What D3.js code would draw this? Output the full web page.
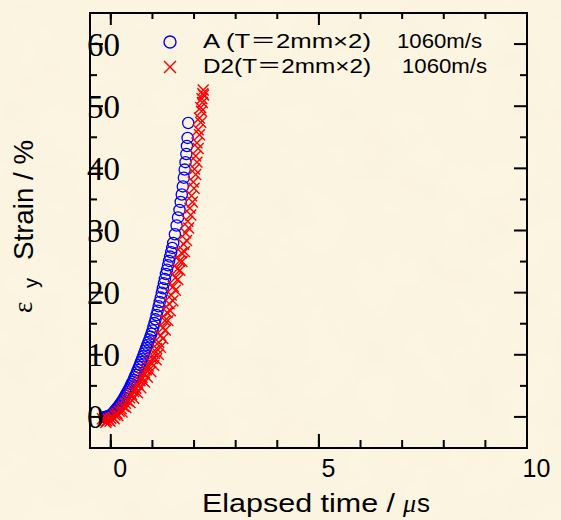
<!DOCTYPE html>
<html>
<head>
<meta charset="utf-8">
<script src="https://cdn.jsdelivr.net/npm/d3@7"></script>
<style>
  html, body { margin: 0; padding: 0; background: #f9efd8; }
  svg { display: block; }
</style>
</head>
<body>
<div id="chart"></div>
<script>
// series A : circles
const timeA = [-0.150, -0.125, -0.100, -0.075, -0.050, -0.025, 0.000, 0.025, 0.050, 0.075, 0.100,
  0.125, 0.150, 0.175, 0.200, 0.225, 0.250, 0.275, 0.300, 0.325, 0.350, 0.375, 0.400, 0.425,
  0.450, 0.475, 0.500, 0.525, 0.550, 0.575, 0.600, 0.625, 0.650, 0.675, 0.700, 0.725, 0.750,
  0.775, 0.800, 0.825, 0.850, 0.875, 0.900, 0.925, 0.950, 0.975, 1.000, 1.025, 1.050, 1.075,
  1.100, 1.125, 1.150, 1.175, 1.200, 1.225, 1.250, 1.275, 1.300, 1.325, 1.350, 1.375, 1.400,
  1.425, 1.450, 1.475, 1.500, 1.540, 1.580, 1.615, 1.650, 1.680, 1.705, 1.730, 1.755, 1.775,
  1.795, 1.815, 1.830, 1.845, 1.860]
const strainA = [0.0, 0.0, 0.0, 0.1, 0.1, 0.2, 0.3, 0.45, 0.6, 0.8, 1.0,
  1.2, 1.4, 1.6, 1.8, 2.05, 2.3, 2.55, 2.8, 3.1, 3.4, 3.7, 4.0, 4.3,
  4.6, 4.95, 5.3, 5.65, 6.0, 6.4, 6.75, 7.15, 7.55, 8.0, 8.4, 8.85, 9.3,
  9.75, 10.2, 10.65, 11.1, 11.55, 12.0, 12.45, 12.9, 13.4, 13.9, 14.5, 15.1, 15.7,
  16.4, 17.1, 17.8, 18.5, 19.2, 20.0, 20.7, 21.5, 22.2, 23.0, 23.7, 24.4, 25.1,
  25.8, 26.5, 27.2, 28.0, 29.4, 30.8, 32.1, 33.3, 34.6, 35.8, 37.1, 38.5, 39.8,
  41.0, 42.3, 43.6, 44.9, 47.3]

// series D2 : crosses (two interleaved runs of the gauge)
const timeD2 = [-0.20, -0.15, -0.10, -0.05, 0.00, 0.05, 0.10, 0.15, 0.20, 0.25, 0.30, 0.35, 0.40, 0.45,
  0.50, 0.55, 0.60, 0.65, 0.70, 0.75, 0.80, 0.85, 0.90, 0.95, 1.00, 1.05, 1.10, 1.15, 1.20, 1.25,
  1.30, 1.35, 1.40, 1.45, 1.50, 1.55, 1.60, 1.65, 1.70, 1.75, 1.80, 1.85, 1.90, 1.94, 1.98, 2.01,
  2.04, 2.07, 2.10, 2.13, 2.16, 2.19, 2.21, 2.22,
  -0.12, -0.02, 0.08, 0.17, 0.27, 0.36, 0.46, 0.55, 0.64, 0.72, 0.81, 0.88, 0.96, 1.03, 1.09,
  1.14, 1.19, 1.25, 1.31, 1.37, 1.43, 1.49, 1.55, 1.61, 1.66, 1.71, 1.77, 1.82, 1.87, 1.92,
  1.96, 2.00, 2.04, 2.07, 2.10, 2.13, 2.16, 2.18, 2.20, 2.23]
const strainD2 = [-0.3, -0.5, -0.6, -0.4, -0.2, 0.0, 0.3, 0.6, 0.9, 1.3, 1.7, 2.2, 2.6, 3.1,
  3.6, 4.1, 4.6, 5.2, 5.8, 6.4, 7.0, 7.6, 8.2, 8.8, 9.4, 10.2, 11.0, 12.0, 13.1, 14.3,
  15.5, 16.8, 18.2, 19.6, 21.0, 22.4, 23.8, 25.1, 26.4, 27.8, 29.6, 31.5, 33.6, 35.6, 37.8, 39.9,
  42.0, 44.1, 46.2, 48.1, 49.8, 51.2, 52.0, 52.6,
  -0.9, -0.7, -0.3, 0.2, 0.8, 1.5, 2.3, 3.0, 3.9, 4.7, 5.6, 6.4, 7.3, 8.3, 9.2,
  10.1, 11.2, 12.6, 14.0, 15.5, 17.1, 18.7, 20.4, 22.1, 23.6, 25.0, 26.6, 28.4, 30.4, 32.5,
  34.6, 36.8, 39.0, 41.0, 43.2, 45.4, 47.4, 49.2, 50.6, 51.8]

const xMajorTicks = [0, 5, 10]
const yMajorTicks = [0, 10, 20, 30, 40, 50, 60]
const seriesNames = ['A (T＝2mm×2)', 'D2(T＝2mm×2)']
const seriesSpeeds = ['1060m/s', '1060m/s']

let frame = { top: 13, right: 34, bottom: 72, left: 90 }

const sans = '"Liberation Sans", Arial, "Noto Sans CJK JP", sans-serif'
const serif = '"Liberation Serif", "Times New Roman", serif'

class StrainPlot {
  constructor(container, width, height) {
    this.container = container
    this.width = width
    this.height = height
    this.innerWidth = width - (frame.left + frame.right)
    this.innerHeight = height - (frame.top + frame.bottom)
    this.draw()
  }

  draw() {
    this.svg = d3.select(this.container).append('svg')
      .attr('width', this.width)
      .attr('height', this.height)

    this.drawPaper()

    this.g = this.svg.append('g')
      .attr('transform', `translate(${frame.left},${frame.top})`)

    this.createScales()
    this.drawPoints()
    this.drawAxes()
    this.drawLabels()
    this.drawLegend()
  }

  drawPaper() {
    let filter = this.svg.append('defs').append('filter')
      .attr('id', 'paper')
      .attr('x', 0).attr('y', 0).attr('width', 1).attr('height', 1)
    filter.append('feTurbulence')
      .attr('type', 'fractalNoise')
      .attr('baseFrequency', 0.02)
      .attr('numOctaves', 4)
      .attr('seed', 7)
    filter.append('feColorMatrix')
      .attr('type', 'matrix')
      .attr('values', '0 0 0 0 0.92  0 0 0 0 0.85  0 0 0 0 0.68  0.5 0 0 0 -0.14')

    this.svg.append('rect')
      .attr('width', this.width).attr('height', this.height)
      .attr('fill', '#fcf5e2')
    this.svg.append('rect')
      .attr('width', this.width).attr('height', this.height)
      .attr('filter', 'url(#paper)')
  }

  createScales() {
    this.x = d3.scaleLinear()
      .domain([-0.5, 10])
      .range([0, this.innerWidth])

    this.y = d3.scaleLinear()
      .domain([-5, 65])
      .range([this.innerHeight, 0])
  }

  drawPoints() {
    let pointsA = timeA.map((t, i) => ({ t: t, v: strainA[i] }))
    let pointsD2 = timeD2.map((t, i) => ({ t: t, v: strainD2[i] }))

    this.g.append('g')
      .selectAll('circle')
      .data(pointsA)
      .join('circle')
      .attr('cx', d => this.x(d.t))
      .attr('cy', d => this.y(d.v))
      .attr('r', 5.6)
      .attr('fill', 'none')
      .attr('stroke', '#0000ff')
      .attr('stroke-width', 1.3)

    let cross = d3.symbol(d3.symbolTimes || d3.symbolX, 80)

    this.g.append('g')
      .selectAll('path')
      .data(pointsD2)
      .join('path')
      .attr('transform', d => `translate(${this.x(d.t)},${this.y(d.v)})`)
      .attr('d', cross)
      .attr('fill', 'none')
      .attr('stroke', '#ff0000')
      .attr('stroke-width', 1.4)
  }

  tickGroup(axis, transform, values, size) {
    let g = this.g.append('g')
      .attr('transform', transform)
      .call(axis.tickValues(values).tickSize(-size).tickFormat('').offset(0))
    g.select('.domain').remove()
    g.selectAll('line').attr('stroke', '#000').attr('stroke-width', 2)
    return g
  }

  drawAxes() {
    let bottom = `translate(0,${this.innerHeight})`
    let right = `translate(${this.innerWidth},0)`
    let xMinor = d3.range(0, 11)
    let yMinor = d3.range(5, 60, 10)

    this.tickGroup(d3.axisBottom(this.x), bottom, xMinor, 8)
    this.tickGroup(d3.axisBottom(this.x), bottom, xMajorTicks, 14)
    this.tickGroup(d3.axisTop(this.x), null, xMinor, 6)
    this.tickGroup(d3.axisTop(this.x), null, xMajorTicks, 12)
    this.tickGroup(d3.axisLeft(this.y), null, yMinor, 7)
    this.tickGroup(d3.axisLeft(this.y), null, yMajorTicks, 13)
    this.tickGroup(d3.axisRight(this.y), right, yMinor, 7)
    this.tickGroup(d3.axisRight(this.y), right, yMajorTicks, 13)

    this.g.append('rect')
      .attr('width', this.innerWidth)
      .attr('height', this.innerHeight)
      .attr('fill', 'none')
      .attr('stroke', '#000')
      .attr('stroke-width', 2)
  }

  drawLabels() {
    let xLabels = this.g.append('g')
      .attr('transform', `translate(0,${this.innerHeight})`)
      .call(d3.axisBottom(this.x).tickValues(xMajorTicks).tickSize(0).tickFormat(d3.format('d')))
    xLabels.select('.domain').remove()
    xLabels.selectAll('text')
      .attr('x', 9)
      .attr('y', 29)
      .attr('dy', null)
      .attr('fill', '#000')
      .style('font-family', sans)
      .style('font-size', '25px')

    let yLabels = this.g.append('g')
      .call(d3.axisLeft(this.y).tickValues(yMajorTicks).tickSize(0).tickFormat(d3.format('d')))
    yLabels.select('.domain').remove()
    yLabels.selectAll('text')
      .attr('x', -3)
      .attr('y', 11)
      .attr('dy', null)
      .attr('text-anchor', 'start')
      .attr('fill', '#000')
      .style('font-family', serif)
      .style('font-size', '33px')

    // x title
    this.svg.append('text')
      .attr('x', 202)
      .attr('y', 512)
      .attr('textLength', 193)
      .attr('lengthAdjust', 'spacingAndGlyphs')
      .style('font-family', sans)
      .style('font-size', '26px')
      .text('Elapsed time /')
    let unit = this.svg.append('text')
      .attr('y', 512)
      .style('font-size', '26px')
    unit.append('tspan').attr('x', 403)
      .style('font-family', serif).style('font-style', 'italic').text('μ')
    unit.append('tspan').attr('x', 417)
      .style('font-family', sans).text('s')

    // y title
    let yTitle = this.svg.append('text')
      .attr('transform', 'translate(32,313) rotate(-90)')
    yTitle.append('tspan').attr('x', 0).attr('y', 0)
      .style('font-family', serif).style('font-size', '27px').text('ε')
    yTitle.append('tspan').attr('x', 25).attr('y', 6)
      .style('font-family', sans).style('font-size', '20px').text('y')
    yTitle.append('tspan').attr('x', 53).attr('y', 1)
      .attr('textLength', 120).attr('lengthAdjust', 'spacingAndGlyphs')
      .style('font-family', sans).style('font-size', '28px').text('Strain / %')
  }

  drawLegend() {
    let legend = this.svg.append('g')
    let rows = [
      { name: seriesNames[0], speed: seriesSpeeds[0], y: 48, speedX: 397 },
      { name: seriesNames[1], speed: seriesSpeeds[1], y: 73, speedX: 402 }
    ]

    legend.append('circle')
      .attr('cx', 170).attr('cy', 42).attr('r', 6)
      .attr('fill', 'none').attr('stroke', '#0000ff').attr('stroke-width', 1.4)
    legend.append('path')
      .attr('transform', 'translate(170,67)')
      .attr('d', d3.symbol(d3.symbolTimes || d3.symbolX, 95)())
      .attr('fill', 'none').attr('stroke', '#ff0000').attr('stroke-width', 1.4)

    rows.forEach(r => {
      legend.append('text')
        .attr('x', 203).attr('y', r.y)
        .attr('textLength', 168).attr('lengthAdjust', 'spacingAndGlyphs')
        .style('font-family', sans).style('font-size', '20px')
        .text(r.name)
      legend.append('text')
        .attr('x', r.speedX).attr('y', r.y)
        .attr('textLength', 85).attr('lengthAdjust', 'spacingAndGlyphs')
        .style('font-family', sans).style('font-size', '20px')
        .text(r.speed)
    })
  }
}

new StrainPlot('#chart', 561, 520)
</script>
</body>
</html>
